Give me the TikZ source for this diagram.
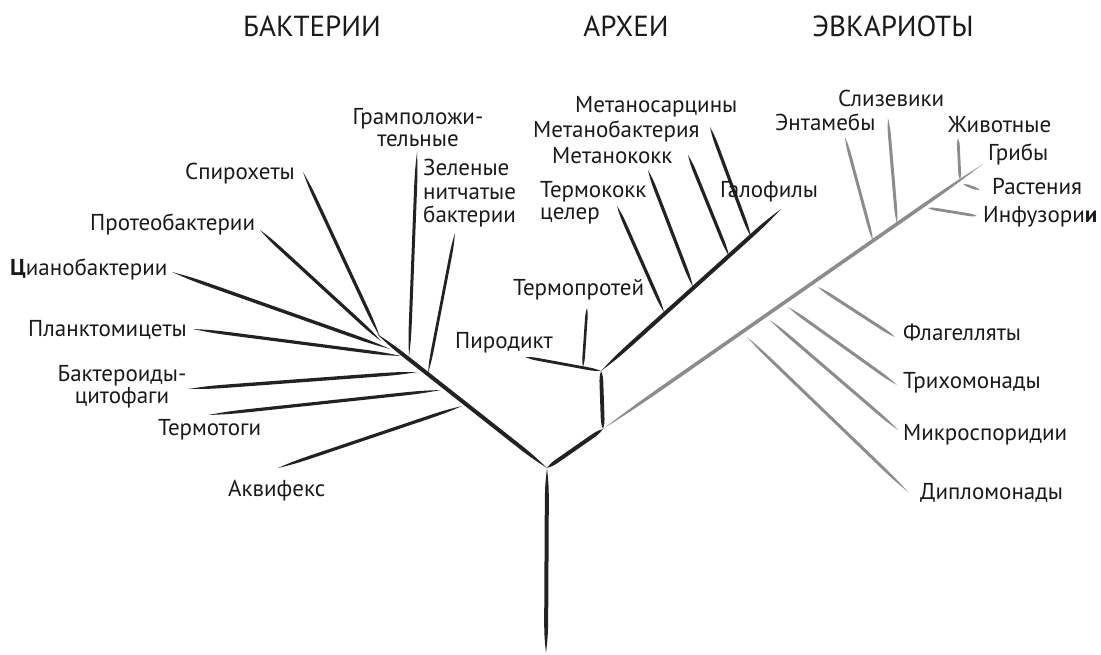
\documentclass[tikz,border=0pt]{standalone}
\usepackage{fontspec}
\setmainfont{PT Sans}
\usetikzlibrary{calc}
\definecolor{bactcol}{HTML}{222222}
\definecolor{eukcol}{HTML}{8C8C8C}
\definecolor{txtcol}{HTML}{1A1A1A}
% tapered brush stroke between two named coordinates (#4 = half width)
\newcommand\treebranch[4][]{%
  \fill[#1] (#2)
    .. controls ($(#2)!0.1!(#3)!#4!90:(#3)$) .. ($(#2)!0.28!(#3)!#4!90:(#3)$)
    -- ($(#2)!0.72!(#3)!#4!90:(#3)$)
    .. controls ($(#2)!0.9!(#3)!#4!90:(#3)$) .. (#3)
    .. controls ($(#2)!0.9!(#3)!#4!-90:(#3)$) .. ($(#2)!0.72!(#3)!#4!-90:(#3)$)
    -- ($(#2)!0.28!(#3)!#4!-90:(#3)$)
    .. controls ($(#2)!0.1!(#3)!#4!-90:(#3)$) .. (#2) -- cycle;}
\tikzset{
  bline/.style={fill=bactcol},
  eline/.style={fill=eukcol},
  lbl/.style={inner sep=0pt, anchor=base west, text=txtcol, font=\fontsize{23}{26}\selectfont},
  lblc/.style={lbl, anchor=base},
  head/.style={inner sep=0pt, anchor=base, text=txtcol, font=\fontsize{29}{32}\selectfont},
}
\begin{document}
\begin{tikzpicture}[x=1pt,y=-1pt]
\useasboundingbox (0,0) rectangle (1101,655);
% ---------- coordinates ----------
\coordinate (root) at (547,468);
\coordinate (stembot) at (546,653);
% bacteria
\coordinate (btop) at (377,334);
\coordinate (spiroO) at (303,172); \coordinate (spiroI) at (380,337);
\coordinate (protO) at (260,230);  \coordinate (protI) at (381,341);
\coordinate (cyanO) at (172,272);  \coordinate (cyanI) at (390,349);
\coordinate (planO) at (193,329);  \coordinate (planI) at (401,356);
\coordinate (gramO) at (417,152);  \coordinate (gramI) at (409,357);
\coordinate (bactO) at (188,389);  \coordinate (bactI) at (418,372);
\coordinate (greenO) at (455,233); \coordinate (greenI) at (428,373);
\coordinate (thermO) at (208,415); \coordinate (thermI) at (441,390);
\coordinate (aquO) at (278,468);   \coordinate (aquI) at (462,406);
% archaea
\coordinate (ajl) at (603,429);
\coordinate (aju) at (601,371);
\coordinate (pyrO) at (525,357);
\coordinate (tprO) at (587,308);   \coordinate (tprI) at (583,367);
\coordinate (halO) at (781,209);
\coordinate (tcO) at (617,206);    \coordinate (tcI) at (664,312);
\coordinate (mcO) at (648,170);    \coordinate (mcI) at (693,287);
\coordinate (mbO) at (688,155);    \coordinate (mbI) at (729,256);
\coordinate (msO) at (710,127);    \coordinate (msI) at (751,237);
% eukaryotes
\coordinate (fungO) at (983,164);
\coordinate (entO) at (845,137);   \coordinate (entI) at (873,241);
\coordinate (slO) at (888,118);    \coordinate (slI) at (897,224);
\coordinate (anO) at (958,138);    \coordinate (anI) at (960,180);
\coordinate (plI) at (963,184);    \coordinate (plO) at (980,190);
\coordinate (infI) at (928,208);   \coordinate (infO) at (977,216);
\coordinate (flI) at (818,287);    \coordinate (flO) at (895,337);
\coordinate (trI) at (788,307);    \coordinate (trO) at (897,385);
\coordinate (miI) at (770,320);    \coordinate (miO) at (898,430);
\coordinate (diI) at (747,337);    \coordinate (diO) at (908,492);
% ---------- branches ----------
\treebranch[bline]{root}{stembot}{2pt}
\treebranch[bline]{root}{btop}{2pt}
\treebranch[bline]{spiroI}{spiroO}{1.6pt}
\treebranch[bline]{protI}{protO}{1.6pt}
\treebranch[bline]{cyanI}{cyanO}{1.7pt}
\treebranch[bline]{planI}{planO}{1.6pt}
\treebranch[bline]{gramI}{gramO}{1.5pt}
\treebranch[bline]{bactI}{bactO}{1.7pt}
\treebranch[bline]{greenI}{greenO}{1.4pt}
\treebranch[bline]{thermI}{thermO}{1.6pt}
\treebranch[bline]{aquI}{aquO}{1.6pt}
\treebranch[bline]{root}{ajl}{2pt}
\treebranch[bline]{ajl}{aju}{1.9pt}
\treebranch[bline]{aju}{pyrO}{1.4pt}
\treebranch[bline]{tprI}{tprO}{1.3pt}
\treebranch[bline]{aju}{halO}{2pt}
\treebranch[bline]{tcI}{tcO}{1.6pt}
\treebranch[bline]{mcI}{mcO}{1.6pt}
\treebranch[bline]{mbI}{mbO}{1.6pt}
\treebranch[bline]{msI}{msO}{1.6pt}
\treebranch[eline]{ajl}{fungO}{1.8pt}
\treebranch[eline]{entI}{entO}{1.5pt}
\treebranch[eline]{slI}{slO}{1.5pt}
\treebranch[eline]{anI}{anO}{1.4pt}
\treebranch[eline]{plI}{plO}{1.3pt}
\treebranch[eline]{infI}{infO}{1.4pt}
\treebranch[eline]{flI}{flO}{1.5pt}
\treebranch[eline]{trI}{trO}{1.5pt}
\treebranch[eline]{miI}{miO}{1.5pt}
\treebranch[eline]{diI}{diO}{1.5pt}
% ---------- headings ----------
\node[head] (hB) at (312,37) {БАКТЕРИИ};
\node[head] (hA) at (626,37) {АРХЕИ};
\node[head] (hE) at (893,37) {ЭВКАРИОТЫ};
% ---------- labels: bacteria ----------
\node[lblc] (lGram1) at (418,125) {Грамположи-};
\node[lblc] (lGram2) at (418,147) {тельные};
\node[lbl] (lGreen1) at (423,176) {Зеленые};
\node[lbl] (lGreen2) at (423,200) {нитчатые};
\node[lbl] (lGreen3) at (423,223) {бактерии};
\node[lbl] (lSpiro) at (185,180) {Спирохеты};
\node[lbl] (lProt) at (90,231) {Протеобактерии};
\node[lbl] (lCyan) at (10,276) {\textbf{Ц}ианобактерии};
\node[lbl] (lPlan) at (28,336) {Планктомицеты};
\node[lblc] (lBact1) at (122,381) {Бактероиды-};
\node[lblc] (lBact2) at (122,403) {цитофаги};
\node[lbl] (lTherm) at (158,435) {Термотоги};
\node[lbl] (lAqu) at (228,496) {Аквифекс};
% ---------- labels: archaea ----------
\node[lbl] (lMs) at (575,113) {Метаносарцины};
\node[lbl] (lMb) at (533,138) {Метанобактерия};
\node[lbl] (lMc) at (552,164) {Метанококк};
\node[lbl] (lTc1) at (540,198) {Термококк};
\node[lbl] (lTc2) at (540,220) {целер};
\node[lbl] (lTpr) at (513,295) {Термопротей};
\node[lbl] (lPyr) at (455,348) {Пиродикт};
\node[lbl] (lHal) at (720,198) {Галофилы};
% ---------- labels: eukaryotes ----------
\node[lbl] (lEnt) at (775,131) {Энтамебы};
\node[lbl] (lSl) at (838,107) {Слизевики};
\node[lbl] (lAn) at (948,133) {Животные};
\node[lbl] (lFung) at (988,161) {Грибы};
\node[lbl] (lPl) at (992,195) {Растения};
\node[lbl] (lInf) at (983,223) {Инфузори\textbf{и}};
\node[lbl] (lFl) at (903,341) {Флагелляты};
\node[lbl] (lTr) at (903,388) {Трихомонады};
\node[lbl] (lMi) at (903,440) {Микроспоридии};
\node[lbl] (lDi) at (920,499) {Дипломонады};
\end{tikzpicture}
\end{document}
